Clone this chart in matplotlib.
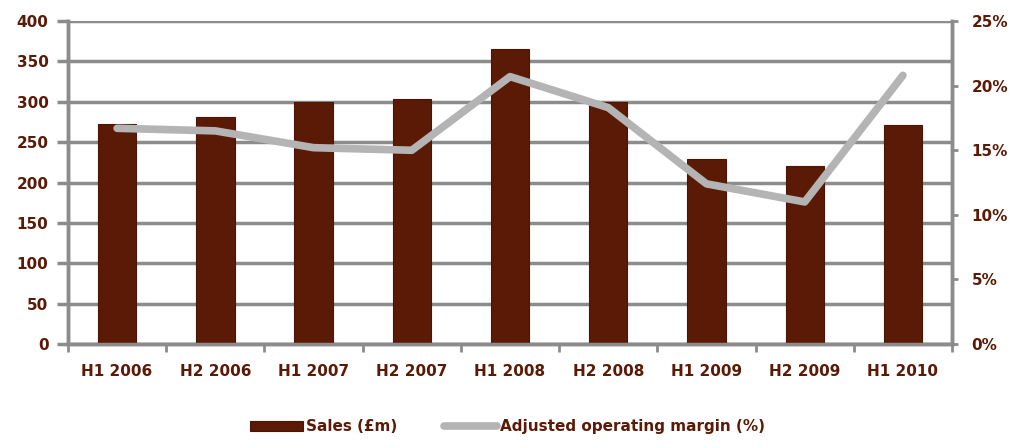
import matplotlib.pyplot as plt
from matplotlib.ticker import FuncFormatter, MultipleLocator

periods = ["H1 2006", "H2 2006", "H1 2007", "H2 2007", "H1 2008",
           "H2 2008", "H1 2009", "H2 2009", "H1 2010"]
sales = [273, 281, 300, 304, 365, 300, 229, 221, 271]
margin = [16.7, 16.5, 15.2, 15.0, 20.7, 18.3, 12.4, 11.0, 20.8]

BROWN = "#5b1a06"
GRID = "#8c8c8c"
LINE = "#b4b4b4"

fig = plt.figure(figsize=(10.15, 4.48), dpi=100)
ax = fig.add_axes([0.067, 0.232, 0.871, 0.721])
ax2 = ax.twinx()

x = range(len(periods))
ax.bar(x, sales, width=0.39, color=BROWN, edgecolor="#4a1504", linewidth=0.8,
       zorder=3, label="Sales (£m)")
ax2.plot(x, margin, color=LINE, linewidth=5.5, solid_capstyle="round",
         solid_joinstyle="round", zorder=4, label="Adjusted operating margin (%)")

ax.set_xlim(-0.5, len(periods) - 0.5)
ax.set_ylim(0, 400)
ax2.set_ylim(0, 25)
ax.yaxis.set_major_locator(MultipleLocator(50))
ax2.yaxis.set_major_locator(MultipleLocator(5))
ax2.yaxis.set_major_formatter(FuncFormatter(lambda v, _: f"{v:.0f}%"))

ax.set_xticks(x)
ax.set_xticklabels(periods)
ax.set_xticks([i - 0.5 for i in range(len(periods) + 1)], minor=True)
ax.tick_params(axis="x", which="major", length=0, pad=14)
ax.tick_params(axis="x", which="minor", length=6, width=2, color=GRID)

ax.grid(axis="y", color=GRID, linewidth=2.5, zorder=0)
ax.set_axisbelow(True)
ax.tick_params(axis="y", length=8, width=2.5, color=GRID, pad=6)
ax2.tick_params(axis="y", length=4, width=2, color=GRID, pad=10)

for a in (ax, ax2):
    for s in a.spines.values():
        s.set_color(GRID)
        s.set_linewidth(2.5)
    a.spines["top"].set_visible(False)
    for lbl in a.get_xticklabels() + a.get_yticklabels():
        lbl.set_color(BROWN)
        lbl.set_fontweight("bold")
        lbl.set_fontsize(11)
ax.set_zorder(ax2.get_zorder() - 1)
ax.patch.set_visible(True)
ax2.patch.set_visible(False)

h1, l1 = ax.get_legend_handles_labels()
h2, l2 = ax2.get_legend_handles_labels()
leg = fig.legend(h1 + h2, l1 + l2, loc="lower center", bbox_to_anchor=(0.5, 0.0),
                 ncol=2, frameon=False, handlelength=3.5, columnspacing=3,
                 handletextpad=0.2, prop={"weight": "bold", "size": 11})
for t in leg.get_texts():
    t.set_color(BROWN)

fig.savefig("out.png", dpi=100)
